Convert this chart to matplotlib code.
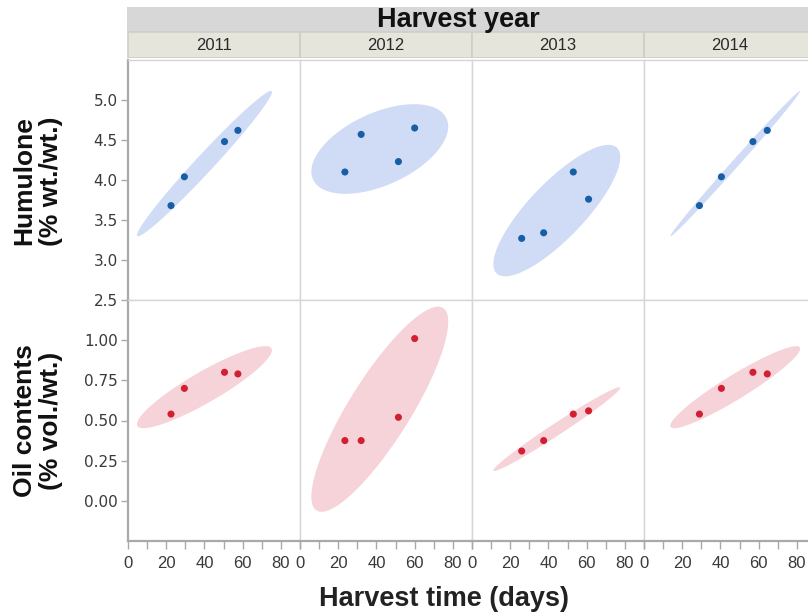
import numpy as np
import matplotlib
matplotlib.use("Agg")
import matplotlib.pyplot as plt
from matplotlib.patches import Rectangle, Polygon
from matplotlib.ticker import MultipleLocator, FixedLocator

# ---- data -------------------------------------------------------------
years = ["2011", "2012", "2013", "2014"]

days_2011 = [22.5, 29.5, 50.5, 57.5]
days_2012 = [23.5, 32.0, 51.5, 60.0]
days_2013 = [26.0, 37.5, 53.0, 61.0]
days_2014 = [29.0, 40.5, 57.0, 64.5]

humulone_2011 = [3.68, 4.04, 4.48, 4.62]
humulone_2012 = [4.10, 4.57, 4.23, 4.65]
humulone_2013 = [3.27, 3.34, 4.10, 3.76]
humulone_2014 = [3.68, 4.04, 4.48, 4.62]

oil_2011 = [0.54, 0.70, 0.80, 0.79]
oil_2012 = [0.375, 0.375, 0.52, 1.01]
oil_2013 = [0.31, 0.375, 0.54, 0.56]
oil_2014 = [0.54, 0.70, 0.80, 0.79]

x_ticks = [0, 20, 40, 60, 80]
humulone_ticks = [2.5, 3.0, 3.5, 4.0, 4.5, 5.0]
oil_ticks = [0.00, 0.25, 0.50, 0.75, 1.00]

row_titles = ["Humulone\n(% wt./wt.)", "Oil contents\n(% vol./wt.)"]

days = [days_2011, days_2012, days_2013, days_2014]
humulone = [humulone_2011, humulone_2012, humulone_2013, humulone_2014]
oil = [oil_2011, oil_2012, oil_2013, oil_2014]

# ---- style ------------------------------------------------------------
W, H = 808, 614
BLUE_FILL, BLUE_PT = "#d0dcf5", "#165ea5"
RED_FILL, RED_PT = "#f5d3d8", "#d21f33"
DIVIDER = "#d6d6d6"
AXIS = "#a9a9a9"
TICK_TXT = "#3a3a3a"
TITLE_FONT = ["Liberation Sans", "DejaVu Sans"]
NARROW_FONT = ["Liberation Sans", "DejaVu Sans"]

fig = plt.figure(figsize=(W / 100, H / 100), dpi=100)


def rect(left, top, width, height):
    return [left / W, 1 - (top + height) / H, width / W, height / H]


def density_ellipse(x, y, level=0.95, n=240):
    """Bivariate normal density ellipse from the sample moments."""
    pts = np.column_stack([x, y])
    mean = pts.mean(axis=0)
    cov = np.cov(pts.T, bias=True)
    chol = np.linalg.cholesky(cov)
    r = np.sqrt(-2.0 * np.log(1.0 - level))
    t = np.linspace(0, 2 * np.pi, n)
    circle = np.vstack([np.cos(t), np.sin(t)])
    return (mean[:, None] + r * chol @ circle).T


PANEL_L, PANEL_W = 128, 172
ROWS = [(60, 240, humulone, (2.5, 5.5), humulone_ticks, "%.1f", BLUE_FILL, BLUE_PT),
        (300, 241, oil, (-0.25, 1.25), oil_ticks, "%.2f", RED_FILL, RED_PT)]

for r, (top, height, series, ylim, yt, fmt, fill, pt) in enumerate(ROWS):
    for c in range(4):
        ax = fig.add_axes(rect(PANEL_L + c * PANEL_W, top, PANEL_W, height))
        ax.set_xlim(0, 90)
        ax.set_ylim(*ylim)
        x = days[c]
        y = series[c]
        ax.add_patch(Polygon(density_ellipse(x, y), closed=True,
                             facecolor=fill, edgecolor="none", zorder=1))
        ax.scatter(x, y, s=26, color=pt, edgecolors="none", zorder=3)

        for side in ("top", "right", "left", "bottom"):
            ax.spines[side].set_color(DIVIDER)
            ax.spines[side].set_linewidth(1.0)

        # y axis only on the first column
        if c == 0:
            ax.spines["left"].set_color(AXIS)
            ax.spines["left"].set_linewidth(1.6)
            ax.yaxis.set_major_locator(FixedLocator(yt))
            ax.set_yticklabels([fmt % v for v in yt])
            ax.tick_params(axis="y", length=5, width=1, color=AXIS,
                           pad=2.5, labelsize=11, labelcolor=TICK_TXT)
            for lab in ax.get_yticklabels():
                lab.set_family("DejaVu Sans")
        else:
            ax.set_yticks([])

        # x axis only on the bottom row
        if r == 1:
            ax.spines["bottom"].set_color(AXIS)
            ax.spines["bottom"].set_linewidth(1.6)
            ax.xaxis.set_major_locator(FixedLocator(x_ticks))
            ax.xaxis.set_minor_locator(MultipleLocator(10))
            ax.set_xticklabels([str(v) for v in x_ticks])
            ax.tick_params(axis="x", which="both", length=6, width=1,
                           color=AXIS, pad=4.5, labelsize=12,
                           labelcolor=TICK_TXT)
            for lab in ax.get_xticklabels():
                lab.set_family(NARROW_FONT)
        else:
            ax.set_xticks([])

# ---- header bands -----------------------------------------------------
hdr = fig.add_axes(rect(PANEL_L - 1, 7, W - PANEL_L + 1, 51))
hdr.set_xlim(PANEL_L - 1, W)
hdr.set_ylim(58, 7)
hdr.axis("off")
hdr.add_patch(Rectangle((PANEL_L - 1, 7), W - PANEL_L + 1, 25,
                        facecolor="#d7d7d7", edgecolor="none"))
hdr.text(458, 20, "Harvest year", ha="center", va="center",
         fontsize=19.5, fontweight="bold", family=TITLE_FONT, color="#111111")
for c, yr in enumerate(years):
    x0 = PANEL_L + c * PANEL_W
    hdr.add_patch(Rectangle((x0, 32), PANEL_W, 25.5, facecolor="#e6e5dc",
                            edgecolor="#d0cfc5", linewidth=1.2))
    hdr.text(x0 + PANEL_W / 2, 45, yr, ha="center", va="center",
             fontsize=12, family=NARROW_FONT, color="#2a2a2a")

# ---- axis titles ------------------------------------------------------
for title, yc in zip(row_titles, (181, 421)):
    fig.text(38 / W, 1 - yc / H, title, rotation=90, ha="center",
             va="center", multialignment="center", linespacing=1.15,
             fontsize=19, fontweight="bold", family=TITLE_FONT,
             color="#111111")
fig.text(444 / W, 1 - 599 / H, "Harvest time (days)", ha="center",
         va="center", fontsize=19.5, fontweight="bold", family=TITLE_FONT,
         color="#222222")

fig.savefig("out.png", dpi=100)
